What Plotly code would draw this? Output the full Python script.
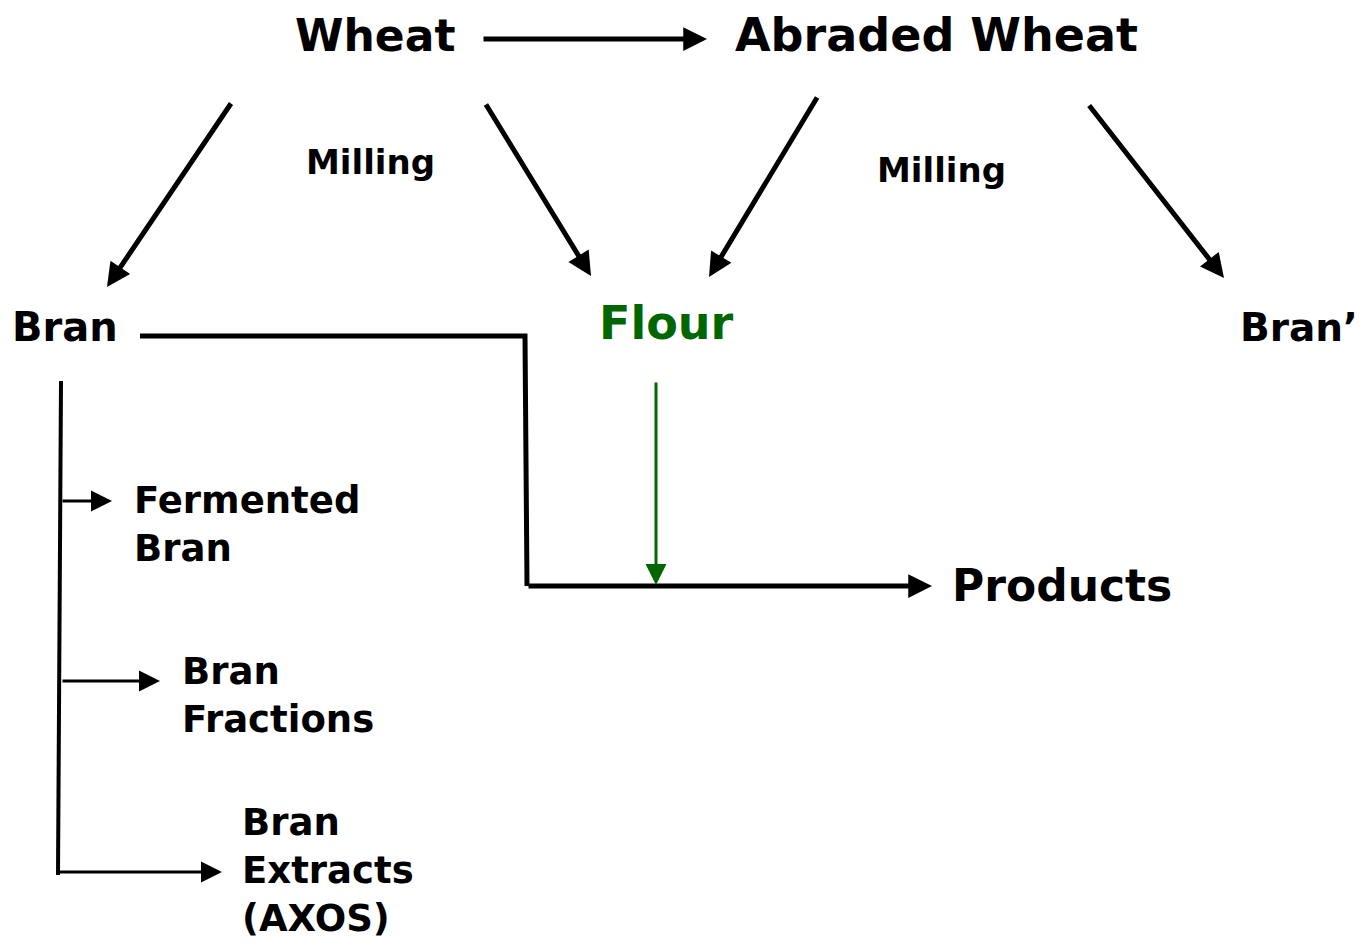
import plotly.graph_objects as go

W, H = 1364, 945
OFF = 8  # default page body margin
FONT = "DejaVu Sans"

# Node labels (text, x, y, anchor, size, color)
label_text = ["Wheat", "Abraded Wheat", "Milling", "Milling", "Bran", "Flour", "Bran’",
              "Fermented<br>Bran", "Bran<br>Fractions", "Bran<br>Extracts<br>(AXOS)", "Products"]
label_x = [375, 936, 370, 941, 10, 666, 1360, 132, 180, 240, 950]
label_y = [35, 35, 162, 170, 327, 323, 327, 524, 695, 870, 585]
label_anchor = ["center", "center", "center", "center", "left", "center", "right",
                "left", "left", "left", "left"]
label_size = [44, 46, 34, 34, 40, 46, 39, 37, 37, 37, 44]
label_color = ["black"] * 5 + ["#006600"] + ["black"] * 5

# Arrows: (x_start, y_start) -> (x_end, y_end)
arrow_x0 = [482, 232, 485, 818, 1088, 527, 656, 61, 61, 58]
arrow_y0 = [39, 102, 103, 96, 104, 586, 381, 501, 681, 872]
arrow_x1 = [707, 107, 591, 709, 1224, 932, 656, 112, 160, 222]
arrow_y1 = [39, 287, 276, 277, 278, 586, 585, 501, 681, 872]
arrow_color = ["black"] * 6 + ["#006600"] + ["black"] * 3
arrow_width = [5, 5, 5, 5, 5, 5, 3, 3, 3, 3]

# Plain connector lines (polylines)
line_x = [[140, 525, 527], [61, 58]]
line_y = [[336, 336, 586], [381, 875]]
line_width = [5, 4]

fig = go.Figure()

for xs, ys, lw in zip(line_x, line_y, line_width):
    fig.add_trace(go.Scatter(x=xs, y=ys, mode="lines",
                             line=dict(color="black", width=lw),
                             hoverinfo="skip", showlegend=False))

for x0, y0, x1, y1, c, w in zip(arrow_x0, arrow_y0, arrow_x1, arrow_y1, arrow_color, arrow_width):
    fig.add_annotation(x=x1, y=y1, ax=x0, ay=y0, xref="x", yref="y", axref="x", ayref="y",
                       text="", showarrow=True, arrowhead=2,
                       arrowsize=0.95 if w == 5 else 1.4,
                       arrowwidth=w, arrowcolor=c)

for t, x, y, a, s, c in zip(label_text, label_x, label_y, label_anchor, label_size, label_color):
    fig.add_annotation(x=x, y=y, xref="x", yref="y", text="<b>" + t + "</b>",
                       showarrow=False, xanchor=a, yanchor="middle", align="left",
                       font=dict(family=FONT, size=s, color=c))

fig.update_xaxes(range=[OFF, W], visible=False, fixedrange=True)
fig.update_yaxes(range=[H, OFF], visible=False, fixedrange=True)
fig.update_layout(width=W - OFF, height=H - OFF, margin=dict(l=0, r=0, t=0, b=0),
                  plot_bgcolor="white", paper_bgcolor="white", showlegend=False)

fig.write_html("out.html")
